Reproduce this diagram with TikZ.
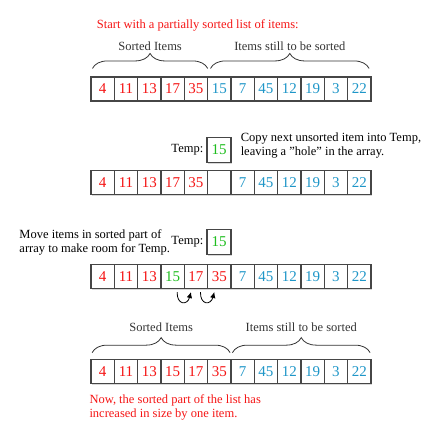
\documentclass[tikz,border=0pt]{standalone}
\usepackage{fontspec}
\setmainfont{Liberation Serif}
\usetikzlibrary{positioning,shadows,arrows.meta,decorations.pathreplacing}

\definecolor{sortred}{RGB}{245,20,20}
\definecolor{unsortblue}{RGB}{30,150,200}
\definecolor{tempgreen}{RGB}{30,190,30}
\definecolor{boxgray}{RGB}{70,70,70}

\tikzset{
  cell/.style={draw=boxgray, line width=1.1pt, fill=white, minimum width=23.33pt,
    minimum height=24pt, inner sep=0pt, font=\fontsize{15}{15}\selectfont,
    drop shadow={shadow xshift=1.2pt, shadow yshift=-1.2pt, fill=black!30}},
  tempbox/.style={cell, minimum width=24pt, minimum height=25pt, text=tempgreen},
  note/.style={inner sep=0pt, align=left, font=\fontsize{12.5}{14}\selectfont},
  bracelabel/.style={inner sep=0pt, font=\fontsize{12.5}{14}\selectfont},
  sortbrace/.style={decorate, decoration={brace, amplitude=15pt}, line width=0.8pt, black!80},
  movearrow/.style={-{Latex[length=6pt,width=5.5pt]}, line width=0.8pt}
}

\begin{document}
\begin{tikzpicture}[x=1pt,y=1pt]
  \useasboundingbox (0,0) rectangle (436,-435);

  % step 1: the partially sorted list
  \node[note, text=sortred, anchor=west] (title) at (96.7,-25)
    {Start with a partially sorted list of items:};
  \foreach \v/\c [count=\i] in {4/sortred,11/sortred,13/sortred,17/sortred,35/sortred,
      15/unsortblue,7/unsortblue,45/unsortblue,12/unsortblue,19/unsortblue,3/unsortblue,22/unsortblue}
    \node[cell, text=\c] (a1-\i) at ({79.33+23.33*\i},-89) {\v};
  \draw[sortbrace] ([xshift=2pt,yshift=8pt]a1-1.north west) --
    node[bracelabel, midway, yshift=22pt] (lab1) {Sorted Items}
    ([xshift=-0.5pt,yshift=8pt]a1-5.north east);
  \draw[sortbrace] ([xshift=3.4pt,yshift=8pt]a1-6.north west) --
    node[bracelabel, midway, yshift=22pt] (lab2) {Items still to be sorted}
    ([xshift=-2.4pt,yshift=8pt]a1-12.north east);

  % step 2: copy into Temp
  \node[tempbox] (tmp1) at (219,-150) {15};
  \node[note, left=3pt of tmp1] (tmplab1) {Temp:};
  \node[note, right=9pt of tmp1, yshift=4pt] (copy)
    {Copy next unsorted item into Temp,\\leaving a \symbol{34}hole\symbol{34} in the array.};
  \foreach \v/\c [count=\i] in {4/sortred,11/sortred,13/sortred,17/sortred,35/sortred,
      /white,7/unsortblue,45/unsortblue,12/unsortblue,19/unsortblue,3/unsortblue,22/unsortblue}
    \node[cell, text=\c] (a2-\i) at ({79.33+23.33*\i},-182.5) {\v};

  % step 3: shift items right
  \node[note, anchor=west] (move) at (19.3,-242)
    {Move items in sorted part of\\array to make room for Temp.};
  \node[tempbox] (tmp2) at (219,-242) {15};
  \node[note, left=3pt of tmp2] (tmplab2) {Temp:};
  \foreach \v/\c [count=\i] in {4/sortred,11/sortred,13/sortred,15/tempgreen,17/sortred,35/sortred,
      7/unsortblue,45/unsortblue,12/unsortblue,19/unsortblue,3/unsortblue,22/unsortblue}
    \node[cell, text=\c] (a3-\i) at ({79.33+23.33*\i},-276.5) {\v};
  \draw[movearrow] ([xshift=4.5pt,yshift=-3pt]a3-4.south) .. controls +(-92:13pt) and +(-105:14pt) ..
    ([xshift=-5pt,yshift=-3pt]a3-5.south);
  \draw[movearrow] ([xshift=4.5pt,yshift=-3pt]a3-5.south) .. controls +(-92:13pt) and +(-105:14pt) ..
    ([xshift=-5pt,yshift=-3pt]a3-6.south);

  % step 4: sorted part grew by one
  \foreach \v/\c [count=\i] in {4/sortred,11/sortred,13/sortred,15/sortred,17/sortred,35/sortred,
      7/unsortblue,45/unsortblue,12/unsortblue,19/unsortblue,3/unsortblue,22/unsortblue}
    \node[cell, text=\c] (a4-\i) at ({79.33+23.33*\i},-371.5) {\v};
  \draw[sortbrace] ([xshift=1.7pt,yshift=6.3pt]a4-1.north west) --
    node[bracelabel, midway, yshift=25pt] (lab3) {Sorted Items}
    ([xshift=-1.4pt,yshift=6.3pt]a4-6.north east);
  \draw[sortbrace] ([xshift=2pt,yshift=6.3pt]a4-7.north west) --
    node[bracelabel, midway, yshift=25pt] (lab4) {Items still to be sorted}
    ([xshift=-1.4pt,yshift=6.3pt]a4-12.north east);
  \node[note, text=sortred, anchor=west] (done) at (89.3,-407.5)
    {Now, the sorted part of the list has\\increased in size by one item.};
\end{tikzpicture}
\end{document}
